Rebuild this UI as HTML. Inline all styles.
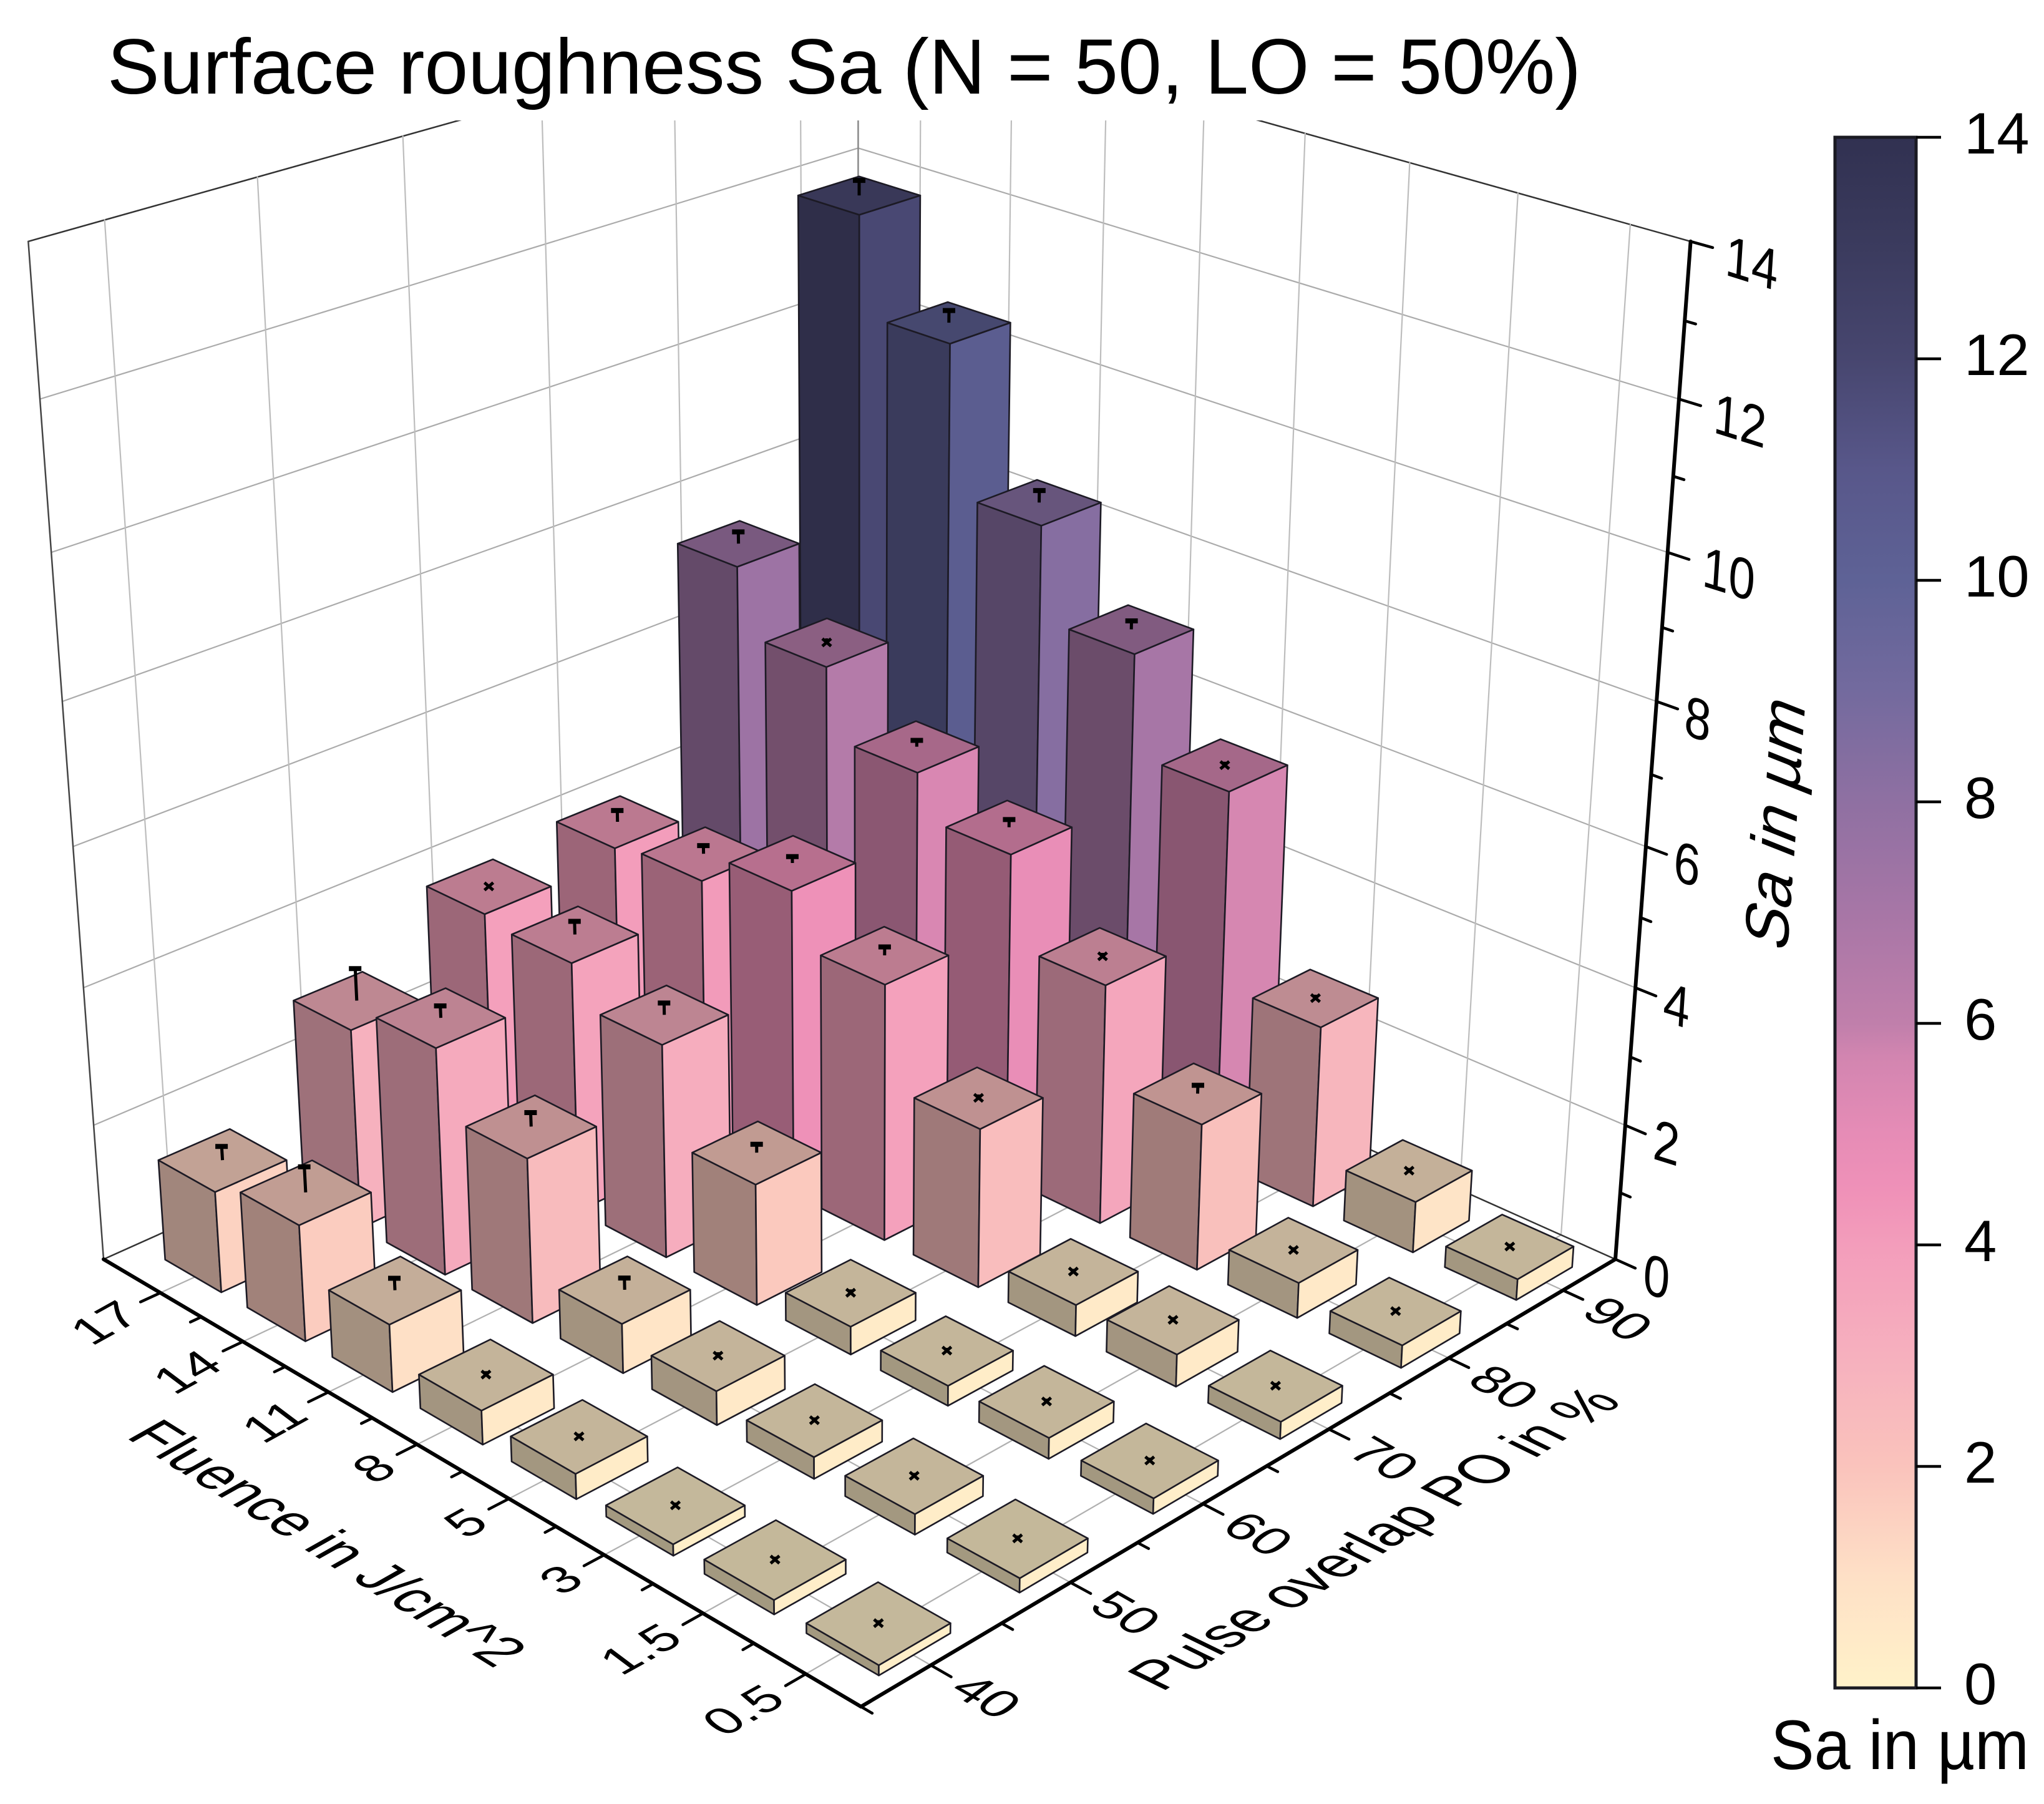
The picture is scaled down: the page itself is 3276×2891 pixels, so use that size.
<!DOCTYPE html>
<html lang="en">
<head>
<meta charset="utf-8">
<title>Surface roughness Sa</title>
<style>
html,body{margin:0;padding:0;background:#fff;}
svg{display:block;}
text{font-family:"Liberation Sans",sans-serif;fill:#000;}
</style>
</head>
<body>
<svg id="chart" xmlns="http://www.w3.org/2000/svg" width="3276" height="2891" viewBox="0 0 3276 2891">
  <defs>
    <clipPath id="wall-clip"><rect x="0" y="193" width="3276" height="2698"></rect></clipPath>
    <linearGradient id="cbar-gradient" x1="0" y1="1" x2="0" y2="0"></linearGradient>
  </defs>
  <rect x="0" y="0" width="3276" height="2891" fill="#ffffff"></rect>
  <text x="172" y="150" font-size="125" textLength="2362" lengthAdjust="spacingAndGlyphs">Surface roughness Sa (N = 50, LO = 50%)</text>
  <g id="grid" clip-path="url(#wall-clip)" fill="none"></g>
  <g id="axes"></g>
  <g id="bars" transform="translate(0,3)"></g>
  <g id="labels"></g>
  <text font-size="100" transform="matrix(.74,.463,-.827,.466,200,2303)">Fluence in J/cm^2</text>
  <text font-size="100" transform="matrix(.74,-.464,.88,.43,1862,2712)">Pulse overlap PO in %</text>
  <text font-size="100" transform="matrix(.073,-1,.98,.39,2864,1529)">Sa in µm</text>
  <g id="colorbar"></g>
  <text x="2838" y="2835" font-size="112" textLength="414" lengthAdjust="spacingAndGlyphs">Sa in µm</text>
</svg>
<script>
// ---- chart data ----
const fluenceLabels = ["0.5","1.5","3","5","8","11","14","17"];
const overlapLabels = ["40","50","60","70","80","90"];
const zTicks = [0,2,4,6,8,10,12,14];
const sa40 = [0.14,0.20,0.16,0.36,0.49,0.98,1.70,1.49];
const sa50 = [0.20,0.29,0.31,0.49,0.72,2.41,3.34,2.96];
const sa60 = [0.22,0.30,0.29,0.41,1.78,3.15,3.71,3.82];
const sa70 = [0.25,0.47,0.46,2.34,3.79,4.54,4.09,3.99];
const sa80 = [0.33,0.52,2.16,3.55,4.85,5.47,6.47,7.42];
const sa90 = [0.31,0.76,2.70,5.55,6.99,8.33,10.46,11.86];
const err40 = [0.04,0.04,0.04,0.04,0.05,0.20,0.40,0.23];
const err50 = [0.04,0.04,0.04,0.05,0.20,0.23,0.20,0.50];
const err60 = [0.04,0.04,0.04,0.05,0.15,0.20,0.22,0.03];
const err70 = [0.04,0.04,0.04,0.05,0.15,0.12,0.15,0.20];
const err80 = [0.04,0.04,0.15,0.05,0.14,0.12,0.06,0.20];
const err90 = [0.04,0.04,0.05,0.05,0.15,0.20,0.20,0.24];
const colorValues = [0,0.5,1,2,3,4,4.5,5,5.7,6,7,8,9,10,11,12,13,14];
const colorHexes = ["#fff2c9","#ffe9c8","#fee0c6","#fac3bc","#f6b0be","#f39dbb","#ef91b8","#e68cb6","#d285b0","#c07fab","#a776a6","#8f70a2","#736a9e","#5e6296","#58578a","#47466f","#3b3b5e","#313151"];

const seriesValues = [sa40,sa50,sa60,sa70,sa80,sa90];
const seriesErrors = [err40,err50,err60,err70,err80,err90];

// ---- projection (perspective axis functions) ----
const NS = "http://www.w3.org/2000/svg";
const G = 0.1608, I = -0.007508;
function project(u, v, z){
  const w = 1 + G*(u+v) + I*z;
  return [(1380 - 1187.3*u + 1625.3*v + 1378*I*z)/w,
          (2735 - 392.5*u - 392.5*v + 18400*I*z)/w];
}
function uOf(i){ return 0.0635 + 0.1215*i; }
function vOf(j){ return 0.0808 + 0.1679*j; }
const HALF = 0.042;

function hex2rgb(h){ return [parseInt(h.slice(1,3),16),parseInt(h.slice(3,5),16),parseInt(h.slice(5,7),16)]; }
function colorAt(z){
  let k = 0;
  while(k < colorValues.length-2 && z > colorValues[k+1]) k++;
  const t = Math.max(0,Math.min(1,(z-colorValues[k])/(colorValues[k+1]-colorValues[k])));
  const a = hex2rgb(colorHexes[k]), b = hex2rgb(colorHexes[k+1]);
  return [a[0]+(b[0]-a[0])*t, a[1]+(b[1]-a[1])*t, a[2]+(b[2]-a[2])*t];
}
function shade(c,f){ return "rgb("+Math.round(c[0]*f)+","+Math.round(c[1]*f)+","+Math.round(c[2]*f)+")"; }
function pts(list){ return list.map(p=>p[0].toFixed(1)+","+p[1].toFixed(1)).join(" "); }

function make(tag, parent, attrs){
  const node = document.createElementNS(NS, tag);
  for(const k in attrs) node.setAttribute(k, attrs[k]);
  parent.appendChild(node);
  return node;
}
function segment(parent, p, q, stroke, width){
  return make("line", parent, {x1:p[0].toFixed(1),y1:p[1].toFixed(1),x2:q[0].toFixed(1),y2:q[1].toFixed(1),stroke:stroke,"stroke-width":width,"stroke-linecap":"round"});
}

// ---- grid ----
const grid = document.getElementById("grid");
zTicks.forEach(function(z){
  if(z === 0) return;
  const col = z === 14 ? "#333" : "#ababab";
  const wd = z === 14 ? 2.5 : 2.2;
  const g1 = segment(grid, project(1,0,z), project(1,1,z), col, wd);
  
  
  const g2 = segment(grid, project(0,1,z), project(1,1,z), col, wd);
  
  
});
overlapLabels.forEach(function(lbl, j){
  const g1 = segment(grid, project(1,vOf(j),0), project(1,vOf(j),14), "#bdbdbd", 2.2);
  
  
  const g2 = segment(grid, project(0,vOf(j),0), project(1,vOf(j),0), "#b0b0b0", 2.2);
  
  
});
fluenceLabels.forEach(function(lbl, i){
  const g1 = segment(grid, project(uOf(i),1,0), project(uOf(i),1,14), "#bdbdbd", 2.2);
  
  
  const g2 = segment(grid, project(uOf(i),0,0), project(uOf(i),1,0), "#b0b0b0", 2.2);
  
  
});
const edgeL = segment(grid, project(1,0,0), project(1,1,0), "#333", 2.5);


const edgeR = segment(grid, project(0,1,0), project(1,1,0), "#333", 2.5);


const edgeC = segment(grid, project(1,1,0), project(1,1,14), "#888", 2.5);


const edgeT = segment(grid, project(1,0,0), project(1,0,14), "#444", 2.5);



// ---- axes ----
const axes = document.getElementById("axes");
const labels = document.getElementById("labels");
const axF = segment(axes, project(0,0,0), project(1,0,0), "#000", 6);


const axP = segment(axes, project(0,0,0), project(0,1,0), "#000", 6);


const axZ = segment(axes, project(0,1,0), project(0,1,14), "#000", 6);


const TICK = 0.023;

fluenceLabels.forEach(function(lbl, i){
  const u = uOf(i);
  const end = project(u,-TICK,0);
  const t = segment(axes, project(u,0,0), end, "#000", 4.5);
  
  
  if(i < fluenceLabels.length-1){
    const um = (uOf(i)+uOf(i+1))/2;
    const m = segment(axes, project(um,0,0), project(um,-TICK*0.55,0), "#000", 4.5);
    
    
  }
  const tx = make("text", labels, {"font-size":100,"text-anchor":"end",
    transform:"matrix(.74,-.41,.6,.45,"+(end[0]+4).toFixed(1)+","+(end[1]+26).toFixed(1)+")"});
  tx.textContent = lbl;
  
  
});
overlapLabels.forEach(function(lbl, j){
  const v = vOf(j);
  const end = project(-TICK,v,0);
  const t = segment(axes, project(0,v,0), end, "#000", 4.5);
  
  
  const vm = j === 0 ? 0 : (vOf(j)+vOf(j-1))/2;
  const m = segment(axes, project(0,vm,0), project(-TICK*0.55,vm,0), "#000", 4.5);
  
  
  const tx = make("text", labels, {"font-size":100,"text-anchor":"middle",
    transform:"matrix(.74,.42,-.62,.46,"+(end[0]+35).toFixed(1)+","+(end[1]+47).toFixed(1)+")"});
  tx.textContent = lbl;
  
  
});
zTicks.forEach(function(z, k){
  const base = project(0,1,z);
  const t = segment(axes, base, project(-TICK,1,z), "#000", 4.5);
  
  
  if(k < zTicks.length-1){
    const zm = (z+zTicks[k+1])/2;
    const m = segment(axes, project(0,1,zm), project(-TICK*0.5,1,zm), "#000", 4.5);
    
    
  }
  const dx = String(z).length === 1 ? 43 : 54;
  const tx = make("text", labels, {"font-size":100,
    transform:"matrix(.755,.237,-.06,.92,"+(base[0]+dx).toFixed(1)+","+(base[1]+53).toFixed(1)+")"});
  tx.textContent = String(z);
  
  
});

// ---- bars (painter's order: back to front) ----
const barsRoot = document.getElementById("bars");
for(let i = fluenceLabels.length-1; i >= 0; i--){
  for(let j = overlapLabels.length-1; j >= 0; j--){
    const z = seriesValues[j][i];
    const e = seriesErrors[j][i];
    const u = uOf(i)*1.006, v = vOf(j) + 0.004*(1-vOf(j));
    const c = colorAt(z);
    const g = make("g", barsRoot, {});
    
    
    const style = {stroke:"#1c1a24","stroke-width":2.6,"stroke-linejoin":"round"};
    const left = make("polygon", g, Object.assign({
      points:pts([project(u-HALF,v-HALF,0),project(u+HALF,v-HALF,0),project(u+HALF,v-HALF,z),project(u-HALF,v-HALF,z)]),
      fill:shade(c,0.64)}, style));
    
    
    const right = make("polygon", g, Object.assign({
      points:pts([project(u-HALF,v-HALF,0),project(u-HALF,v+HALF,0),project(u-HALF,v+HALF,z),project(u-HALF,v-HALF,z)]),
      fill:shade(c,1)}, style));
    
    
    const top = make("polygon", g, Object.assign({
      points:pts([project(u-HALF,v-HALF,z),project(u+HALF,v-HALF,z),project(u+HALF,v+HALF,z),project(u-HALF,v+HALF,z)]),
      fill:shade(c,0.77)}, style));
    
    
    // error bar
    const a = project(u,v,z), b = project(u,v,z+e);
    const eg = make("g", g, {stroke:"#000",fill:"none"});
    
    
    make("line", eg, {x1:a[0].toFixed(1),y1:a[1].toFixed(1),x2:b[0].toFixed(1),y2:b[1].toFixed(1),"stroke-width":5});
    if(e < 0.08){
      make("line", eg, {x1:(a[0]-7).toFixed(1),y1:(a[1]-6).toFixed(1),x2:(a[0]+7).toFixed(1),y2:(a[1]+6).toFixed(1),"stroke-width":5});
      make("line", eg, {x1:(a[0]+7).toFixed(1),y1:(a[1]-6).toFixed(1),x2:(a[0]-7).toFixed(1),y2:(a[1]+6).toFixed(1),"stroke-width":5});
    } else {
      make("line", eg, {x1:(b[0]-10).toFixed(1),y1:(b[1]+3).toFixed(1),x2:(b[0]+10).toFixed(1),y2:(b[1]+3).toFixed(1),"stroke-width":8});
    }
  }
}

// ---- colorbar ----
const CB_TOP = 220, CB_BOTTOM = 2705, CB_LEFT = 2941, CB_RIGHT = 3071, CB_MAX = 14;
function cbY(z){ return CB_BOTTOM - (CB_BOTTOM-CB_TOP)*z/CB_MAX; }
const grad = document.getElementById("cbar-gradient");
colorValues.forEach(function(val, k){
  make("stop", grad, {offset:(val/CB_MAX).toFixed(4),"stop-color":colorHexes[k]});
});
const cbar = document.getElementById("colorbar");
const cbRect = make("rect", cbar, {x:CB_LEFT,y:CB_TOP,width:CB_RIGHT-CB_LEFT,height:CB_BOTTOM-CB_TOP,fill:"url(#cbar-gradient)",stroke:"#1a1a22","stroke-width":5});


zTicks.forEach(function(z){
  const y = cbY(z);
  const t = make("line", cbar, {x1:CB_RIGHT,y1:y,x2:3111,y2:y,stroke:"#000","stroke-width":4.5});
  
  
  const tx = make("text", cbar, {x:3148,y:y+26,"font-size":94});
  tx.textContent = String(z);
  
  
});
</script>
</body>
</html>
